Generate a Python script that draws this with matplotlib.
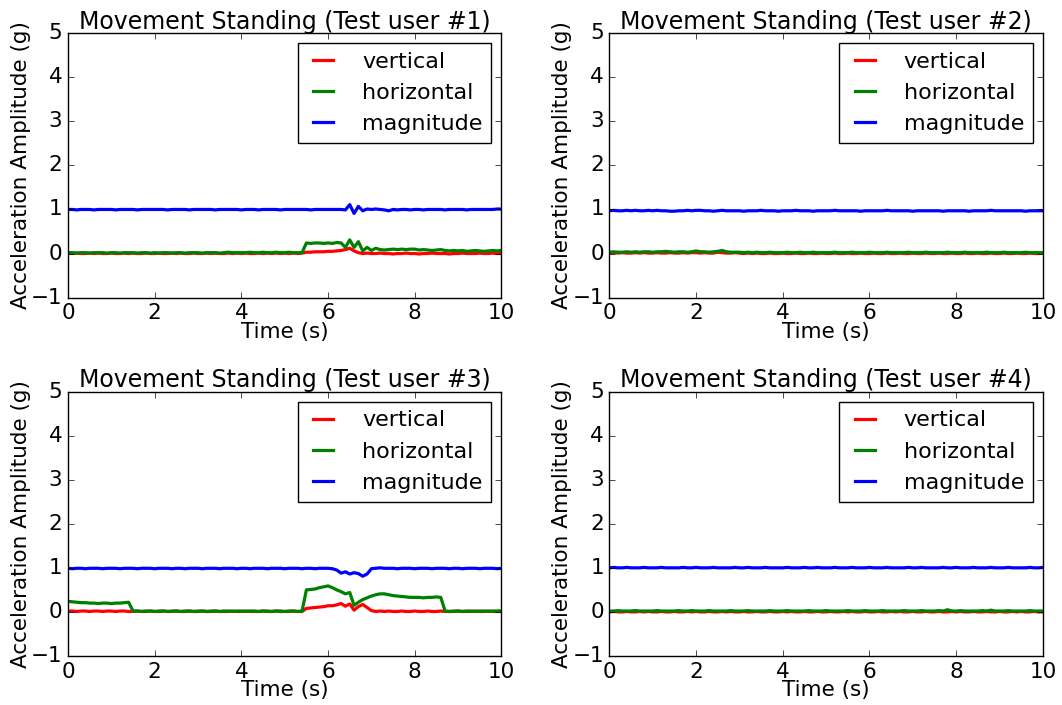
import numpy as np
import matplotlib
matplotlib.use('Agg')
from matplotlib import pyplot as plt

# sample times (s), one reading every 0.1 s
t = np.arange(101) * 0.1

# --- Test user #1 ---
u1_vertical = [
	0.01, 0.00, 0.01, 0.00, 0.00, 0.01, 0.00, 0.01, 0.00, 0.00,
	0.01, 0.00, 0.00, 0.01, 0.00, 0.01, 0.00, 0.00, 0.01, 0.00,
	0.00, 0.01, 0.00, 0.00, 0.01, 0.00, 0.01, 0.00, 0.00, 0.01,
	0.00, 0.00, 0.01, 0.00, 0.01, 0.00, 0.00, 0.01, 0.00, 0.01,
	0.00, 0.01, 0.00, 0.00, 0.01, 0.00, 0.01, 0.00, 0.01, 0.00,
	0.01, 0.00, 0.01, 0.00, 0.01, 0.03, 0.03, 0.04, 0.04, 0.04,
	0.05, 0.05, 0.06, 0.07, 0.09, 0.12, 0.06, 0.02, 0.00, 0.01,
	0.00, 0.00, 0.01, 0.00, 0.00, -0.01, 0.00, 0.00, 0.01, 0.00,
	0.00, -0.01, 0.00, 0.00, 0.01, 0.00, 0.00, 0.00, -0.01, 0.00,
	0.00, 0.01, 0.00, 0.00, 0.00, 0.01, 0.00, 0.00, 0.01, 0.00,
	0.00]
u1_horizontal = [
	0.02, 0.02, 0.01, 0.02, 0.02, 0.01, 0.02, 0.02, 0.02, 0.01,
	0.02, 0.02, 0.01, 0.02, 0.02, 0.02, 0.01, 0.02, 0.02, 0.01,
	0.02, 0.01, 0.02, 0.02, 0.01, 0.02, 0.02, 0.01, 0.02, 0.02,
	0.02, 0.01, 0.02, 0.02, 0.02, 0.01, 0.02, 0.03, 0.02, 0.02,
	0.02, 0.02, 0.03, 0.02, 0.02, 0.03, 0.02, 0.02, 0.03, 0.02,
	0.02, 0.03, 0.02, 0.02, 0.02, 0.24, 0.23, 0.24, 0.24, 0.23,
	0.24, 0.23, 0.25, 0.24, 0.14, 0.31, 0.14, 0.27, 0.06, 0.14,
	0.07, 0.12, 0.09, 0.08, 0.09, 0.10, 0.09, 0.10, 0.09, 0.10,
	0.10, 0.08, 0.09, 0.08, 0.07, 0.08, 0.09, 0.07, 0.06, 0.07,
	0.06, 0.07, 0.05, 0.06, 0.07, 0.06, 0.05, 0.06, 0.07, 0.06,
	0.07]
u1_magnitude = [
	1.00, 1.00, 0.99, 1.00, 1.00, 1.00, 0.99, 1.00, 1.00, 1.00,
	1.00, 0.99, 1.00, 1.00, 1.00, 1.00, 0.99, 1.00, 1.00, 1.00,
	1.00, 1.00, 1.00, 0.99, 1.00, 1.00, 1.00, 1.00, 0.99, 1.00,
	1.00, 1.00, 1.00, 1.00, 0.99, 1.00, 1.00, 1.00, 1.00, 1.00,
	0.99, 1.00, 1.00, 1.00, 0.99, 1.00, 1.00, 1.00, 1.00, 0.99,
	1.00, 1.00, 1.00, 1.00, 1.00, 1.00, 0.99, 1.00, 1.00, 1.00,
	1.00, 1.00, 1.00, 1.00, 0.99, 1.11, 0.91, 1.07, 0.97, 1.01,
	1.00, 1.01, 1.00, 0.99, 0.97, 1.00, 0.99, 1.00, 1.00, 0.99,
	1.00, 1.00, 0.99, 1.00, 1.00, 1.00, 1.00, 0.99, 1.00, 1.00,
	1.00, 1.00, 0.99, 1.00, 1.00, 1.00, 1.00, 1.00, 1.00, 1.01,
	1.01]

# --- Test user #2 ---
u2_vertical = [
	0.01, 0.02, 0.01, 0.02, 0.01, 0.01, 0.02, 0.01, 0.02, 0.01,
	0.01, 0.02, 0.01, 0.01, 0.02, 0.01, 0.01, 0.02, 0.01, 0.02,
	0.02, 0.01, 0.02, 0.01, 0.01, 0.03, 0.02, 0.01, 0.01, 0.02,
	0.01, 0.00, 0.01, 0.00, 0.01, 0.00, 0.00, 0.01, 0.00, 0.00,
	0.01, 0.00, 0.00, 0.01, 0.00, 0.00, 0.01, 0.00, 0.00, 0.01,
	0.00, 0.00, 0.01, 0.00, 0.00, 0.01, 0.00, 0.00, 0.01, 0.00,
	0.00, 0.01, 0.00, 0.00, 0.01, 0.00, 0.00, 0.01, 0.00, 0.00,
	0.01, 0.00, 0.00, 0.01, 0.00, 0.00, 0.01, 0.00, 0.00, 0.01,
	0.00, 0.00, 0.01, 0.00, 0.00, 0.01, 0.00, 0.00, 0.01, 0.00,
	0.00, 0.01, 0.00, 0.00, 0.01, 0.00, 0.00, 0.01, 0.00, 0.00,
	0.01]
u2_horizontal = [
	0.03, 0.04, 0.03, 0.03, 0.04, 0.03, 0.04, 0.03, 0.04, 0.04,
	0.03, 0.04, 0.04, 0.05, 0.04, 0.03, 0.04, 0.04, 0.03, 0.04,
	0.06, 0.04, 0.04, 0.03, 0.04, 0.05, 0.07, 0.04, 0.03, 0.03,
	0.03, 0.02, 0.03, 0.02, 0.03, 0.02, 0.02, 0.03, 0.02, 0.02,
	0.02, 0.03, 0.02, 0.02, 0.03, 0.02, 0.02, 0.03, 0.02, 0.02,
	0.02, 0.02, 0.03, 0.02, 0.02, 0.02, 0.03, 0.02, 0.02, 0.02,
	0.03, 0.02, 0.02, 0.02, 0.03, 0.02, 0.02, 0.02, 0.02, 0.03,
	0.02, 0.02, 0.02, 0.03, 0.02, 0.02, 0.02, 0.02, 0.03, 0.02,
	0.02, 0.02, 0.03, 0.02, 0.02, 0.02, 0.02, 0.03, 0.02, 0.02,
	0.02, 0.03, 0.02, 0.02, 0.02, 0.02, 0.03, 0.02, 0.02, 0.02,
	0.02]
u2_magnitude = [
	0.97, 0.98, 0.97, 0.97, 0.98, 0.97, 0.98, 0.97, 0.97, 0.98,
	0.97, 0.98, 0.97, 0.97, 0.96, 0.96, 0.97, 0.97, 0.98, 0.97,
	0.98, 0.98, 0.97, 0.97, 0.96, 0.97, 0.98, 0.97, 0.97, 0.97,
	0.97, 0.96, 0.97, 0.97, 0.97, 0.98, 0.97, 0.97, 0.97, 0.96,
	0.97, 0.97, 0.97, 0.98, 0.97, 0.97, 0.97, 0.96, 0.97, 0.97,
	0.97, 0.97, 0.98, 0.97, 0.97, 0.97, 0.97, 0.97, 0.96, 0.97,
	0.97, 0.97, 0.97, 0.97, 0.98, 0.97, 0.97, 0.97, 0.97, 0.97,
	0.96, 0.97, 0.97, 0.97, 0.97, 0.97, 0.97, 0.96, 0.97, 0.97,
	0.97, 0.97, 0.97, 0.96, 0.97, 0.97, 0.97, 0.97, 0.98, 0.97,
	0.97, 0.97, 0.97, 0.97, 0.97, 0.97, 0.96, 0.97, 0.97, 0.97,
	0.97]

# --- Test user #3 ---
u3_vertical = [
	0.02, 0.02, 0.01, 0.02, 0.02, 0.01, 0.02, 0.02, 0.01, 0.02,
	0.02, 0.01, 0.02, 0.02, 0.01, 0.01, 0.02, 0.01, 0.01, 0.02,
	0.01, 0.01, 0.02, 0.01, 0.01, 0.02, 0.01, 0.01, 0.02, 0.01,
	0.01, 0.02, 0.01, 0.01, 0.02, 0.01, 0.01, 0.01, 0.02, 0.01,
	0.01, 0.02, 0.01, 0.01, 0.01, 0.02, 0.01, 0.01, 0.02, 0.01,
	0.01, 0.01, 0.02, 0.01, 0.01, 0.08, 0.09, 0.10, 0.11, 0.12,
	0.14, 0.14, 0.16, 0.19, 0.13, 0.18, 0.04, 0.12, 0.17, 0.10,
	0.03, 0.01, 0.02, 0.01, 0.02, 0.01, 0.01, 0.02, 0.01, 0.01,
	0.02, 0.01, 0.01, 0.02, 0.01, 0.01, 0.02, 0.01, 0.01, 0.01,
	0.02, 0.01, 0.01, 0.01, 0.02, 0.01, 0.01, 0.02, 0.01, 0.01,
	0.02]
u3_horizontal = [
	0.24, 0.23, 0.22, 0.21, 0.21, 0.20, 0.20, 0.19, 0.20, 0.20,
	0.19, 0.20, 0.20, 0.21, 0.22, 0.02, 0.02, 0.01, 0.02, 0.02,
	0.01, 0.02, 0.02, 0.01, 0.02, 0.02, 0.01, 0.02, 0.02, 0.01,
	0.02, 0.02, 0.01, 0.02, 0.02, 0.01, 0.02, 0.02, 0.01, 0.02,
	0.02, 0.01, 0.02, 0.02, 0.01, 0.02, 0.02, 0.01, 0.02, 0.02,
	0.01, 0.02, 0.02, 0.01, 0.02, 0.50, 0.51, 0.52, 0.55, 0.57,
	0.59, 0.55, 0.50, 0.46, 0.41, 0.44, 0.15, 0.22, 0.28, 0.32,
	0.36, 0.39, 0.41, 0.41, 0.39, 0.37, 0.36, 0.35, 0.34, 0.33,
	0.33, 0.33, 0.32, 0.33, 0.33, 0.34, 0.33, 0.02, 0.01, 0.02,
	0.02, 0.01, 0.02, 0.02, 0.01, 0.02, 0.02, 0.01, 0.02, 0.02,
	0.02]
u3_magnitude = [
	0.99, 0.98, 0.99, 0.99, 0.98, 0.99, 0.99, 0.99, 0.98, 0.99,
	0.99, 0.99, 0.98, 0.99, 0.99, 0.99, 0.98, 0.99, 0.99, 0.99,
	0.98, 0.99, 0.99, 0.99, 0.98, 0.99, 0.99, 0.98, 0.99, 0.99,
	0.99, 0.98, 0.99, 0.99, 0.99, 0.98, 0.99, 0.99, 0.99, 0.98,
	0.99, 0.99, 0.98, 0.99, 0.99, 0.99, 0.98, 0.99, 0.99, 0.99,
	0.98, 0.99, 0.99, 0.99, 0.98, 0.99, 0.99, 0.98, 0.99, 0.99,
	0.99, 0.98, 0.95, 0.88, 0.91, 0.86, 0.89, 0.87, 0.81, 0.86,
	0.98, 0.99, 1.00, 0.99, 0.99, 0.99, 0.98, 0.99, 0.99, 0.99,
	0.98, 0.99, 0.99, 0.99, 0.98, 0.99, 0.99, 0.99, 0.98, 0.99,
	0.99, 0.98, 0.99, 0.99, 0.99, 0.98, 0.99, 0.99, 0.99, 0.98,
	0.99]

# --- Test user #4 ---
u4_vertical = [
	0.00, 0.01, 0.00, 0.00, 0.01, 0.00, 0.00, 0.01, 0.00, 0.01,
	0.00, 0.00, 0.01, 0.00, 0.00, 0.01, 0.00, 0.00, 0.01, 0.00,
	0.01, 0.00, 0.00, 0.01, 0.00, 0.00, 0.01, 0.00, 0.01, 0.00,
	0.00, 0.01, 0.00, 0.00, 0.01, 0.00, 0.00, 0.01, 0.00, 0.00,
	0.01, 0.00, 0.01, 0.00, 0.00, 0.01, 0.00, 0.00, 0.01, 0.00,
	0.00, 0.01, 0.00, 0.00, 0.01, 0.00, 0.01, 0.00, 0.00, 0.01,
	0.00, 0.00, 0.01, 0.00, 0.00, 0.01, 0.00, 0.01, 0.00, 0.00,
	0.01, 0.00, 0.00, 0.01, 0.00, 0.00, 0.01, 0.00, 0.00, 0.01,
	0.00, 0.01, 0.00, 0.00, 0.01, 0.00, 0.00, 0.01, 0.00, 0.00,
	0.01, 0.00, 0.00, 0.01, 0.00, 0.01, 0.00, 0.00, 0.01, 0.00,
	0.00]
u4_horizontal = [
	0.02, 0.02, 0.03, 0.02, 0.02, 0.02, 0.03, 0.02, 0.02, 0.02,
	0.02, 0.03, 0.02, 0.02, 0.02, 0.02, 0.03, 0.02, 0.02, 0.03,
	0.02, 0.02, 0.02, 0.03, 0.02, 0.02, 0.02, 0.02, 0.03, 0.02,
	0.02, 0.02, 0.03, 0.02, 0.02, 0.02, 0.02, 0.03, 0.02, 0.02,
	0.02, 0.03, 0.02, 0.02, 0.02, 0.02, 0.03, 0.02, 0.02, 0.02,
	0.03, 0.02, 0.02, 0.02, 0.02, 0.03, 0.02, 0.02, 0.02, 0.03,
	0.02, 0.02, 0.02, 0.03, 0.02, 0.02, 0.02, 0.02, 0.03, 0.02,
	0.02, 0.02, 0.03, 0.02, 0.02, 0.02, 0.03, 0.02, 0.05, 0.02,
	0.02, 0.03, 0.02, 0.02, 0.02, 0.02, 0.03, 0.02, 0.04, 0.02,
	0.02, 0.02, 0.03, 0.02, 0.02, 0.02, 0.02, 0.03, 0.02, 0.02,
	0.02]
u4_magnitude = [
	1.00, 1.01, 1.00, 1.00, 1.01, 1.00, 1.00, 1.00, 1.01, 1.00,
	1.00, 1.00, 1.01, 1.00, 1.00, 1.00, 1.00, 1.01, 1.00, 1.00,
	1.01, 1.00, 1.00, 1.00, 1.01, 1.00, 1.00, 1.00, 1.00, 1.01,
	1.00, 1.00, 1.01, 1.00, 1.00, 1.00, 1.01, 1.00, 1.00, 1.00,
	1.00, 1.01, 1.00, 1.00, 1.00, 1.01, 1.00, 1.00, 1.01, 1.00,
	1.00, 1.00, 1.01, 1.00, 1.00, 1.00, 1.01, 1.00, 1.00, 1.00,
	1.01, 1.00, 1.00, 1.00, 1.01, 1.00, 1.00, 1.00, 1.00, 1.01,
	1.00, 1.00, 1.01, 1.00, 1.00, 1.00, 1.00, 1.01, 1.00, 1.00,
	1.01, 1.00, 1.00, 1.00, 1.01, 1.00, 1.00, 1.00, 1.01, 1.00,
	1.00, 1.00, 1.01, 1.00, 1.00, 1.00, 1.00, 1.01, 1.00, 1.00,
	1.01]

users = ['#1', '#2', '#3', '#4']
verticals = [u1_vertical, u2_vertical, u3_vertical, u4_vertical]
horizontals = [u1_horizontal, u2_horizontal, u3_horizontal, u4_horizontal]
magnitudes = [u1_magnitude, u2_magnitude, u3_magnitude, u4_magnitude]

plt.style.use('classic')
plt.rcParams['figure.facecolor'] = 'white'
plt.rcParams['savefig.facecolor'] = 'white'

FS = 15.5

def plotUser(ax, user, vert, horiz, mag):
	ax.plot(t, vert, color='r', lw=2.3, label='vertical')
	ax.plot(t, horiz, color='g', lw=2.3, label='horizontal')
	ax.plot(t, mag, color='b', lw=2.3, label='magnitude')
	ax.set_xlim(0, 10)
	ax.set_ylim(-1, 5)
	ax.set_xticks([0, 2, 4, 6, 8, 10])
	ax.set_yticks([-1, 0, 1, 2, 3, 4, 5])
	ax.set_title('Movement Standing (Test user %s)' % user, fontsize=17, pad=3)
	ax.set_xlabel('Time (s)', fontsize=FS, labelpad=-1)
	ax.set_ylabel('Acceleration Amplitude (g)', fontsize=FS, labelpad=0)
	ax.tick_params(labelsize=FS)
	ax.legend(loc='upper right', fontsize=16, handlelength=1.5,
		handletextpad=1.0, borderaxespad=0.45, labelspacing=0.5)

fig, axes = plt.subplots(2, 2, figsize=(10.62, 7.05), dpi=100)
fig.subplots_adjust(left=0.064, right=0.982, bottom=0.0695, top=0.953,
	wspace=0.249, hspace=0.355)

for ax, user, v, h, m in zip(axes.flat, users, verticals, horizontals, magnitudes):
	plotUser(ax, user, v, h, m)

fig.savefig('out.png', dpi=100)
